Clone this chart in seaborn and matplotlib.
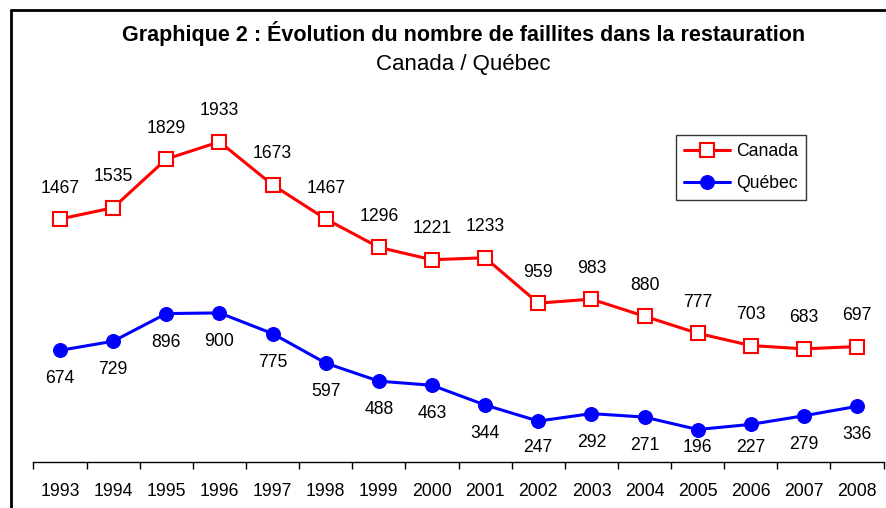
import matplotlib
matplotlib.use("Agg")

import numpy as np
import pandas as pd
import matplotlib.pyplot as plt
import seaborn as sns

annees = list(range(1993, 2009))
canada = [1467, 1535, 1829, 1933, 1673, 1467, 1296, 1221, 1233, 959, 983, 880, 777, 703, 683, 697]
quebec = [674, 729, 896, 900, 775, 597, 488, 463, 344, 247, 292, 271, 196, 227, 279, 336]

df = pd.DataFrame({"annee": annees, "Canada": canada, "Québec": quebec})

sns.set_style("white")
plt.rcParams["font.family"] = ["Liberation Sans", "DejaVu Sans"]
plt.rcParams["text.color"] = "black"
plt.rcParams["xtick.color"] = "black"

fig = plt.figure(figsize=(8.86, 5.08), dpi=100)
ax = fig.add_axes([0.0378, 0.0906, 0.9595, 0.7874])

sns.lineplot(data=df, x="annee", y="Canada", ax=ax, color="#ff0000", lw=2.2,
             marker="s", markersize=10, markerfacecolor="white",
             markeredgecolor="#ff0000", markeredgewidth=1.5, label="Canada")
sns.lineplot(data=df, x="annee", y="Québec", ax=ax, color="#0000ff", lw=2.2,
             marker="o", markersize=10, markerfacecolor="#0000ff",
             markeredgecolor="#0000ff", label="Québec")

# etykiety wartosci (dolne nie schodza ponizej obszaru wykresu)
for a, v in zip(annees, canada):
    ax.text(a, v + 187, str(v), ha="center", va="center", fontsize=12.7)
for a, v in zip(annees, quebec):
    ax.text(a, max(v - 172, 85), str(v), ha="center", va="center", fontsize=12.7)

ax.set_xlim(1992.5, 2008.5)
ax.set_ylim(0, 2415)
ax.set_xticks(annees)
ax.set_xticklabels([str(a) for a in annees], fontsize=12.7)
ax.set_xticks(np.arange(1992.5, 2009, 1), minor=True)
ax.tick_params(axis="x", which="major", length=0, pad=15)
ax.tick_params(axis="x", which="minor", length=5, width=1, color="black", direction="out", bottom=True)
ax.set_yticks([])
ax.set_xlabel("")
ax.set_ylabel("")
for s in ["top", "right", "left"]:
    ax.spines[s].set_visible(False)
ax.spines["bottom"].set_color("black")
ax.spines["bottom"].set_linewidth(1)

leg = ax.legend(loc="upper left", bbox_to_anchor=(0.756, 0.8175), fontsize=12.7,
                frameon=True, fancybox=False, handlelength=2.6, borderpad=0.45,
                labelspacing=0.85, handletextpad=0.35, borderaxespad=0)
leg.get_frame().set_edgecolor("black")
leg.get_frame().set_linewidth(1)

fig.text(0.523, 0.934, "Graphique 2 : Évolution du nombre de faillites dans la restauration",
         ha="center", va="center", fontsize=15.5, fontweight="bold")
fig.text(0.523, 0.874, "Canada / Québec", ha="center", va="center", fontsize=16)

# ramka wokol wykresu
fig.add_artist(plt.Line2D([0.0124, 0.0124], [0.0, 0.98], transform=fig.transFigure, color="black", lw=2))
fig.add_artist(plt.Line2D([0.0124, 1.0], [0.98, 0.98], transform=fig.transFigure, color="black", lw=2))

fig.savefig("out.png", dpi=100)
